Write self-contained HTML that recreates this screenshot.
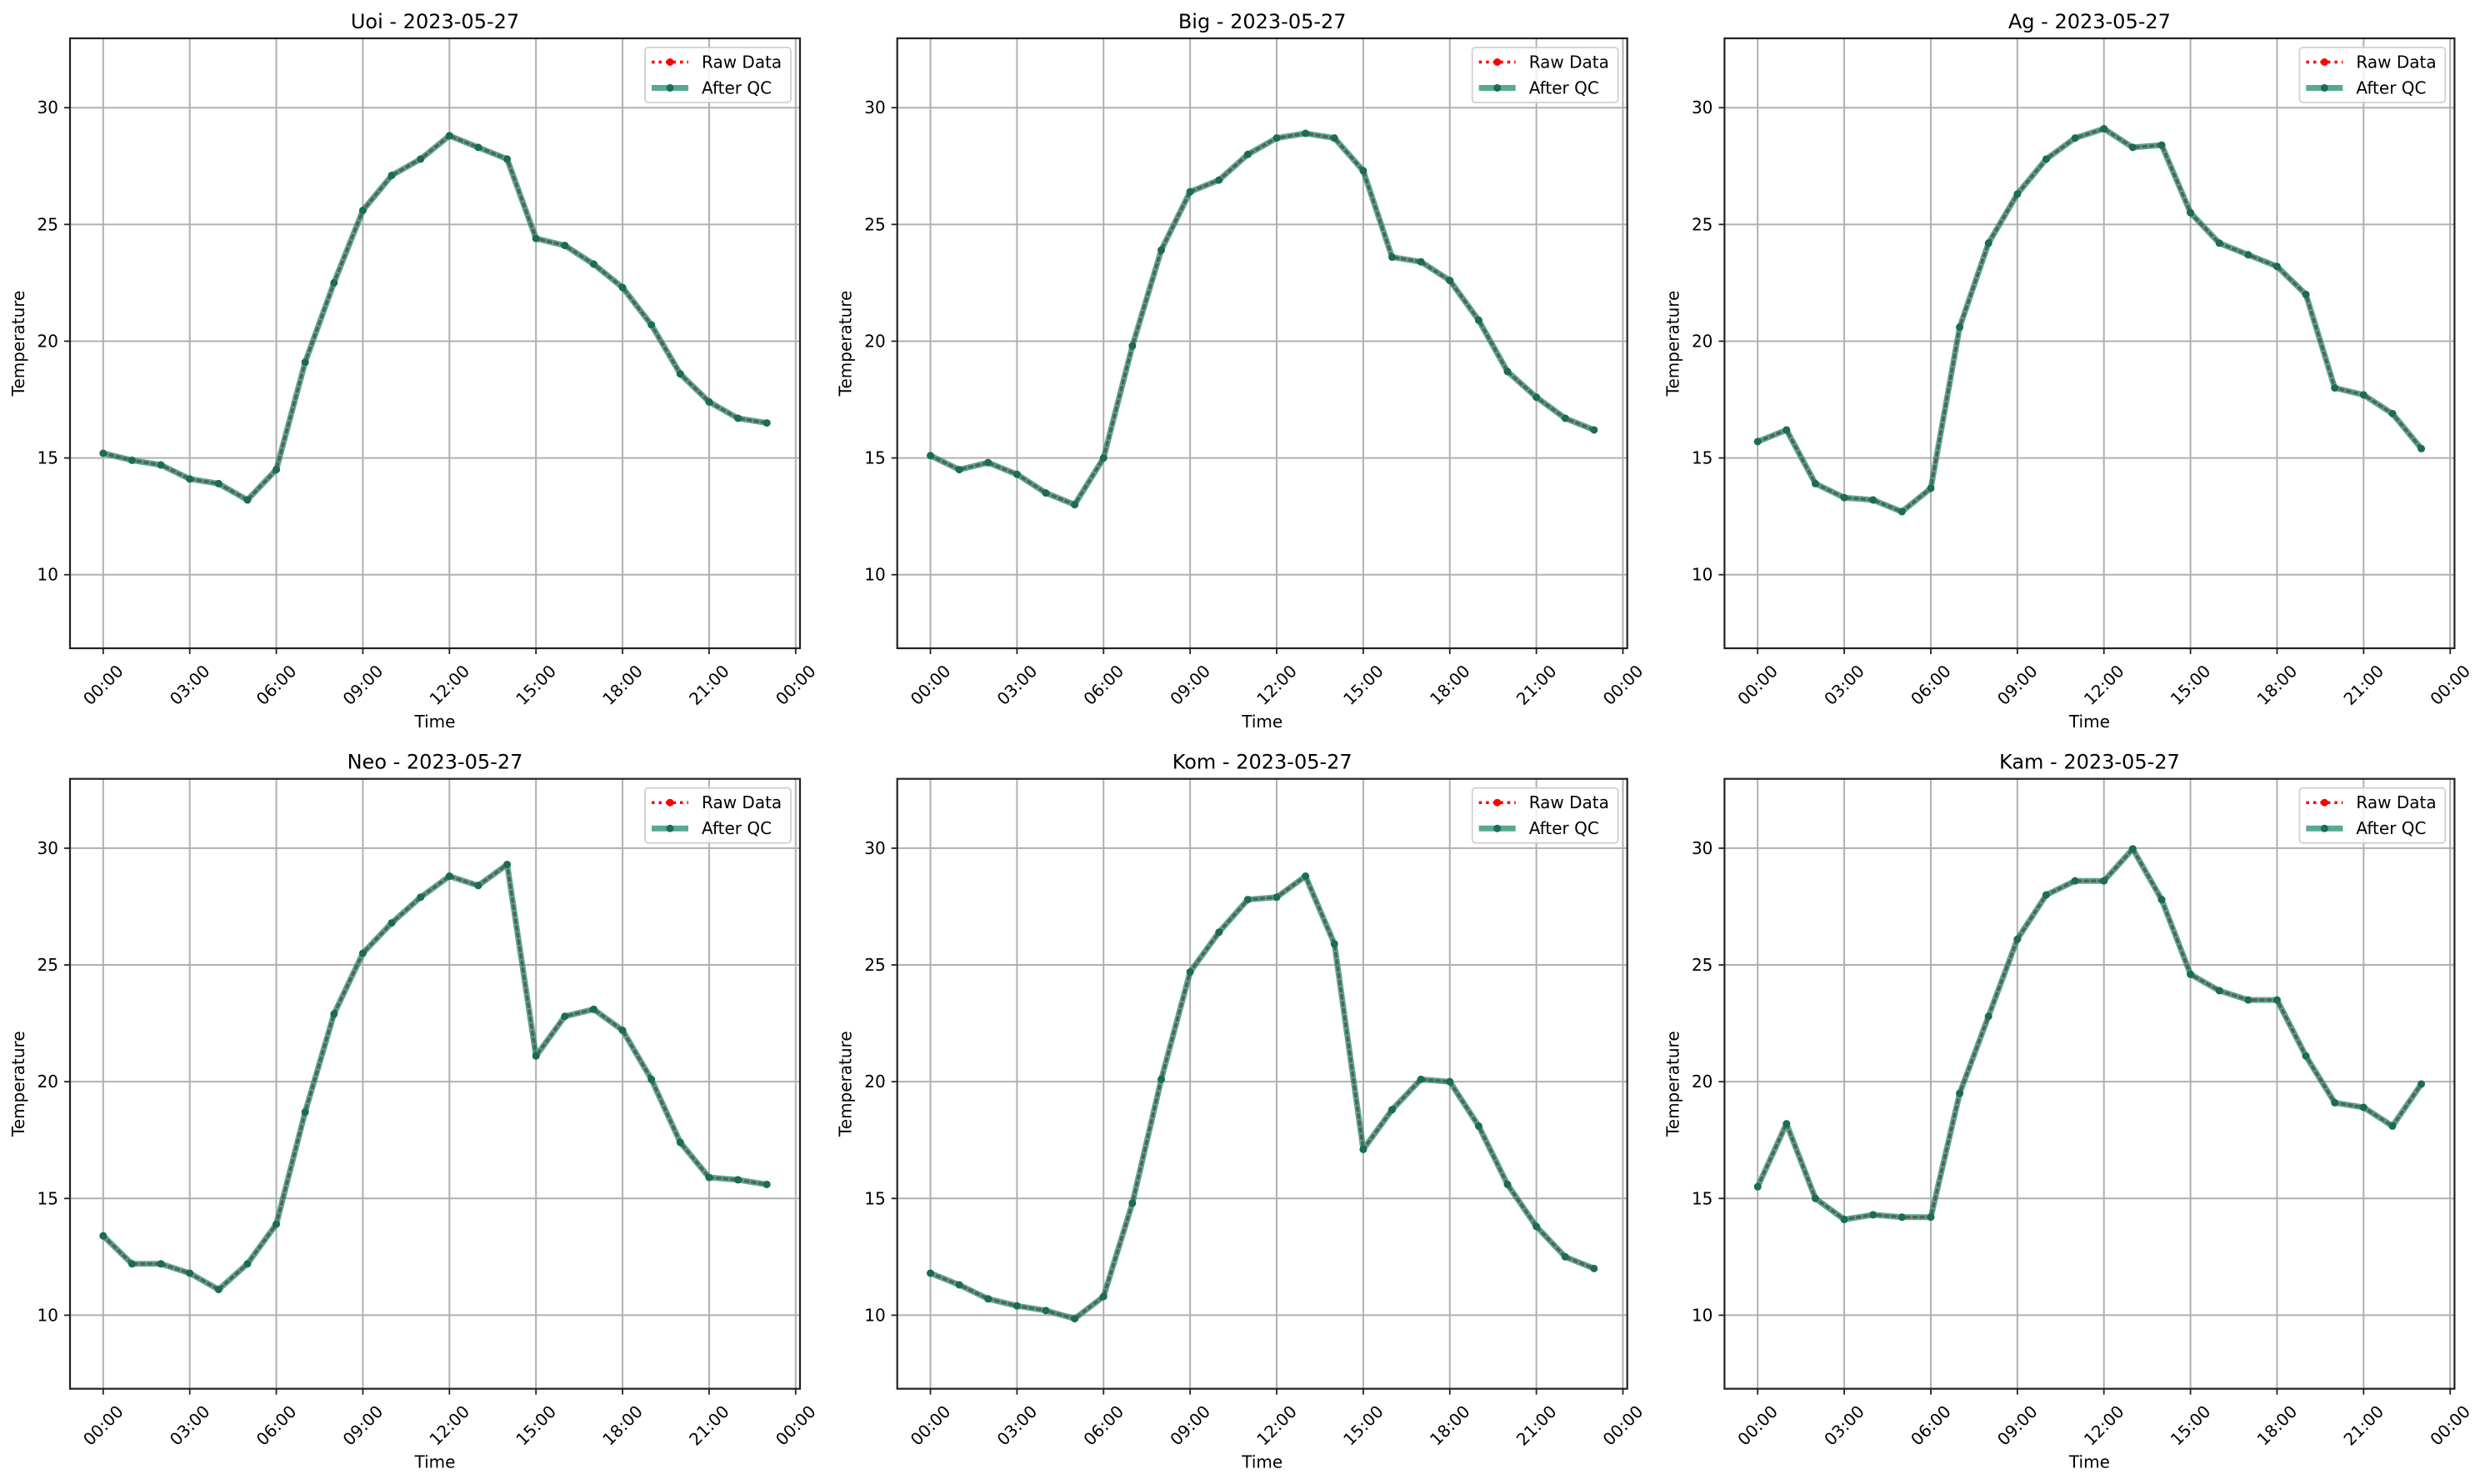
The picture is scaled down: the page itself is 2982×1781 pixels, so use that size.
<!DOCTYPE html>
<html><head><meta charset="utf-8">
<style>
html,body{margin:0;padding:0;background:#fff;}
svg{display:block;font-family:"DejaVu Sans","Liberation Sans",sans-serif;}
</style></head>
<body>
<svg id="fig" width="2982" height="1781" viewBox="0 0 2982 1781" xmlns="http://www.w3.org/2000/svg"></svg>
<script>
const stations = ["Uoi","Big","Ag","Neo","Kom","Kam"];
const dateLabel = "2023-05-27";
const hours = [0,1,2,3,4,5,6,7,8,9,10,11,12,13,14,15,16,17,18,19,20,21,22,23];
const tempUoi = [15.2,14.9,14.7,14.1,13.9,13.2,14.5,19.1,22.5,25.6,27.1,27.8,28.8,28.3,27.8,24.4,24.1,23.3,22.3,20.7,18.6,17.4,16.7,16.5];
const tempBig = [15.1,14.5,14.8,14.3,13.5,13.0,15.0,19.8,23.9,26.4,26.9,28.0,28.7,28.9,28.7,27.3,23.6,23.4,22.6,20.9,18.7,17.6,16.7,16.2];
const tempAg  = [15.7,16.2,13.9,13.3,13.2,12.7,13.7,20.6,24.2,26.3,27.8,28.7,29.1,28.3,28.4,25.5,24.2,23.7,23.2,22.0,18.0,17.7,16.9,15.4];
const tempNeo = [13.4,12.2,12.2,11.8,11.1,12.2,13.9,18.7,22.9,25.5,26.8,27.9,28.8,28.4,29.3,21.1,22.8,23.1,22.2,20.1,17.4,15.9,15.8,15.6];
const tempKom = [11.8,11.3,10.7,10.4,10.2,9.85,10.8,14.8,20.1,24.7,26.4,27.8,27.9,28.8,25.9,17.1,18.8,20.1,20.0,18.1,15.6,13.8,12.5,12.0];
const tempKam = [15.5,18.2,15.0,14.1,14.3,14.2,14.2,19.5,22.8,26.1,28.0,28.6,28.6,29.97,27.8,24.6,23.9,23.5,23.5,21.1,19.1,18.9,18.1,19.9];
const xTickHours = [0,3,6,9,12,15,18,21,24];
const xTickLabels = ["00:00","03:00","06:00","09:00","12:00","15:00","18:00","21:00","00:00"];
const yTicks = [10,15,20,25,30];

const series = [tempUoi,tempBig,tempAg,tempNeo,tempKom,tempKam];
const NS="http://www.w3.org/2000/svg";
const fig=document.getElementById('fig');
function mk(tag,attrs,parent){const e=document.createElementNS(NS,tag);for(const k in attrs)e.setAttribute(k,attrs[k]);(parent||fig).appendChild(e);return e;}

const W=876,H=732;
const colX=[84,1076.7,2069.4], rowY=[46,934.7];
let all=[];series.forEach(s=>all=all.concat(s));
const yMin=Math.min(...all)-3, yMax=Math.max(...all)+3;
const xMin=-1.15, xMax=24.15;

series.forEach((vals,i)=>{
  const L=colX[i%3], T=rowY[Math.floor(i/3)];
  const xs=h=>L+(h-xMin)/(xMax-xMin)*W;
  const ys=v=>T+H-(v-yMin)/(yMax-yMin)*H;
  const g=mk('g',{});
  
  
  // grid
  xTickHours.forEach((h,k)=>{
    const gl=mk('line',{x1:xs(h),x2:xs(h),y1:T,y2:T+H,stroke:'#b0b0b0','stroke-width':2},g);
    
    
    const tk=mk('line',{x1:xs(h),x2:xs(h),y1:T+H,y2:T+H+7,stroke:'#222','stroke-width':1.8},g);
    
    
    const cx=xs(h), cy=T+H+44;
    const t=mk('text',{x:cx,y:cy,'font-size':20,'text-anchor':'middle','dominant-baseline':'central',transform:`rotate(-45 ${cx} ${cy})`,fill:'#000'},g);
    t.textContent=xTickLabels[k];
    
    
  });
  yTicks.forEach(v=>{
    const gl=mk('line',{x1:L,x2:L+W,y1:ys(v),y2:ys(v),stroke:'#b0b0b0','stroke-width':2},g);
    
    
    const tk=mk('line',{x1:L-7,x2:L,y1:ys(v),y2:ys(v),stroke:'#222','stroke-width':1.8},g);
    
    
    const t=mk('text',{x:L-14,y:ys(v),'font-size':20,'text-anchor':'end','dominant-baseline':'central',fill:'#000'},g);
    t.textContent=String(v);
    
    
  });
  // lines
  const pts=vals.map((v,j)=>xs(hours[j]).toFixed(1)+','+ys(v).toFixed(1)).join(' ');
  const raw=mk('polyline',{points:pts,fill:'none',stroke:'#ff0000','stroke-width':3.5,'stroke-dasharray':'3.5 5','stroke-linecap':'round'},g);
  
  
  const qc=mk('polyline',{points:pts,fill:'none',stroke:'#17876a','stroke-opacity':0.72,'stroke-width':7,'stroke-linejoin':'round'},g);
  
  
  vals.forEach((v,j)=>{
    const c=mk('circle',{cx:xs(hours[j]),cy:ys(v),r:4.5,fill:'#1b6b55'},g);
    
    
  });
  // frame
  const fr=mk('rect',{x:L,y:T,width:W,height:H,fill:'none',stroke:'#222','stroke-width':2.2},g);
  
  
  // titles
  const tt=mk('text',{x:L+W/2,y:T-20,'font-size':24,'text-anchor':'middle','dominant-baseline':'central',fill:'#000'},g);
  tt.textContent=stations[i]+' - '+dateLabel;
  
  
  const xl=mk('text',{x:L+W/2,y:T+H+88,'font-size':20,'text-anchor':'middle','dominant-baseline':'central',fill:'#000'},g);
  xl.textContent='Time';
  
  
  const yx=L-62, yy=T+H/2;
  const yl=mk('text',{x:yx,y:yy,'font-size':20,'text-anchor':'middle','dominant-baseline':'central',transform:`rotate(-90 ${yx} ${yy})`,fill:'#000'},g);
  yl.textContent='Temperature';
  
  
  // legend
  const lg=mk('g',{},g);
  
  
  const bx=L+W-186, by=T+11;
  mk('rect',{x:bx,y:by,width:175,height:66,rx:4,fill:'#fff','fill-opacity':0.8,stroke:'#d0d0d0','stroke-width':1.8},lg);
  const r1=by+17.5, r2=by+48.5;
  const h1=mk('line',{x1:bx+8,x2:bx+52,y1:r1,y2:r1,stroke:'#ff0000','stroke-width':3.5,'stroke-dasharray':'3.5 5'},lg);
  
  
  mk('circle',{cx:bx+30,cy:r1,r:4.5,fill:'#ff0000'},lg);
  const t1=mk('text',{x:bx+68,y:r1,'font-size':20,'dominant-baseline':'central',fill:'#000'},lg);
  t1.textContent='Raw Data';
  
  
  const h2=mk('line',{x1:bx+8,x2:bx+52,y1:r2,y2:r2,stroke:'#17876a','stroke-opacity':0.72,'stroke-width':7},lg);
  
  
  mk('circle',{cx:bx+30,cy:r2,r:4.5,fill:'#1b6b55'},lg);
  const t2=mk('text',{x:bx+68,y:r2,'font-size':20,'dominant-baseline':'central',fill:'#000'},lg);
  t2.textContent='After QC';
  
  
});
</script>
</body></html>
